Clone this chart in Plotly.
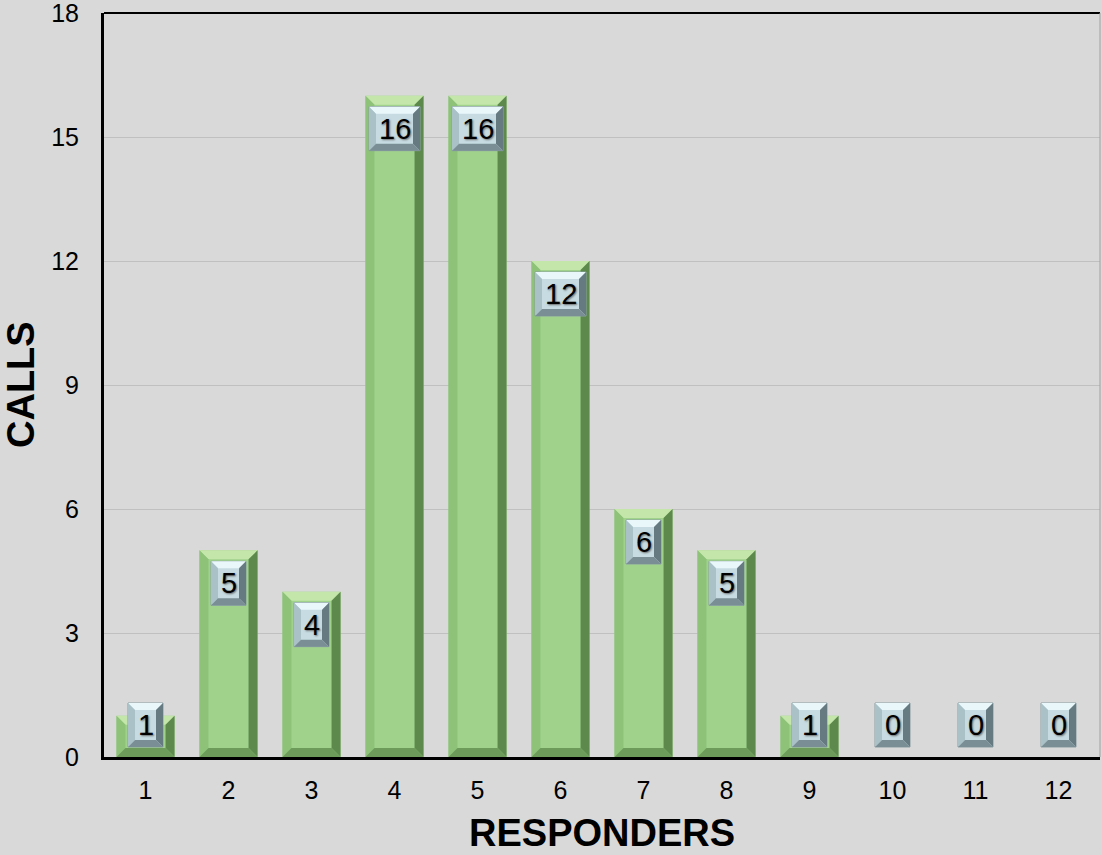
import plotly.graph_objects as go

categories = ["1", "2", "3", "4", "5", "6", "7", "8", "9", "10", "11", "12"]
calls = [1, 5, 4, 16, 16, 12, 6, 5, 1, 0, 0, 0]
y_ticks = [0, 3, 6, 9, 12, 15, 18]
x_title = "RESPONDERS"
y_title = "CALLS"

W, H = 1102, 855
ML, MR, MT, MB = 104, 2, 13, 98
PW, PH = W - ML - MR, H - MT - MB
YMAX = 18
n = len(categories)
xs = list(range(1, n + 1))
pxx = PW / n          # pixels per x unit
pxy = PH / YMAX       # pixels per y unit
BARW = 0.7

def dx(p):
    return p / pxx

def dy(p):
    return p / pxy

fig = go.Figure()
fig.add_trace(go.Bar(
    x=xs, y=calls, width=BARW,
    marker=dict(color="#a0d28b", line=dict(width=0)),
    hoverinfo="x+y", showlegend=False,
))

shapes = []
def poly(pts, color):
    path = "M " + " L ".join(f"{x},{y}" for x, y in pts) + " Z"
    shapes.append(dict(type="path", path=path, xref="x", yref="y",
                       fillcolor=color, line=dict(width=0), layer="above"))

# bar bevels
for x, v in zip(xs, calls):
    if v <= 0:
        continue
    x0, x1 = x - BARW / 2, x + BARW / 2
    y0, y1 = 0, v
    bx, by = dx(9), dy(9)
    by = min(by, v / 2)
    poly([(x0, y1), (x1, y1), (x1 - bx, y1 - by), (x0 + bx, y1 - by)], "#c4e6ab")
    poly([(x0, y0), (x0, y1), (x0 + bx, y1 - by), (x0 + bx, y0 + by)], "#8dc278")
    poly([(x1, y0), (x1, y1), (x1 - bx, y1 - by), (x1 - bx, y0 + by)], "#5d8a4c")
    poly([(x0, y0), (x1, y0), (x1 - bx, y0 + by), (x0 + bx, y0 + by)], "#6c9b5a")

annotations = []
# label boxes
for x, v in zip(xs, calls):
    txt = str(v)
    wpx = 35 if len(txt) == 1 else 51
    hpx = 44
    cy = max(v - dy(33), dy(32))
    bx0, bx1 = x - dx(wpx / 2), x + dx(wpx / 2)
    by0, by1 = cy - dy(hpx / 2), cy + dy(hpx / 2)
    ex, ey = dx(7), dy(7)
    shapes.append(dict(type="rect", x0=bx0, x1=bx1, y0=by0, y1=by1, xref="x", yref="y",
                       fillcolor="#c6dce2", line=dict(color="#8a9ea4", width=1), layer="above"))
    poly([(bx0, by1), (bx1, by1), (bx1 - ex, by1 - ey), (bx0 + ex, by1 - ey)], "#eaf7fa")
    poly([(bx0, by0), (bx0, by1), (bx0 + ex, by1 - ey), (bx0 + ex, by0 + ey)], "#aac1c8")
    poly([(bx1, by0), (bx1, by1), (bx1 - ex, by1 - ey), (bx1 - ex, by0 + ey)], "#667a81")
    poly([(bx0, by0), (bx1, by0), (bx1 - ex, by0 + ey), (bx0 + ex, by0 + ey)], "#7a8f95")
    annotations.append(dict(x=x, y=cy, xref="x", yref="y", text=txt, showarrow=False,
                            font=dict(family="Arial", size=29, color="#000000",
                                      shadow="1px 1px 2px #6a6a6a")))

# axis titles
annotations.append(dict(x=0.5, y=-(833 - (H - MB)) / PH, xref="paper", yref="paper",
                        xanchor="center", yanchor="middle", showarrow=False,
                        text=f"<b>{x_title}</b>", font=dict(family="Arial", size=38, color="#000000")))
annotations.append(dict(x=(21 - ML) / PW, y=0.5, xref="paper", yref="paper",
                        xanchor="center", yanchor="middle", showarrow=False, textangle=-90,
                        text=f"<b>{y_title}</b>", font=dict(family="Arial", size=38, color="#000000")))

# top and right border
shapes.append(dict(type="line", xref="paper", yref="paper", x0=0, x1=1, y0=1, y1=1,
                   line=dict(color="#000000", width=2), layer="above"))
shapes.append(dict(type="line", xref="paper", yref="paper", x0=1, x1=1, y0=0, y1=1,
                   line=dict(color="#a0a0a0", width=1), layer="above"))

fig.update_layout(
    width=W, height=H,
    margin=dict(l=ML, r=MR, t=MT, b=MB, autoexpand=False),
    paper_bgcolor="#d9d9d9", plot_bgcolor="#d9d9d9",
    bargap=0.3,
    shapes=shapes, annotations=annotations,
    font=dict(family="Arial", color="#000000"),
    xaxis=dict(
        range=[0.5, n + 0.5], tickvals=xs, ticktext=categories,
        showgrid=False, zeroline=False,
        showline=True, linecolor="#000000", linewidth=3,
        ticks="outside", ticklen=9, tickcolor="rgba(0,0,0,0)",
        tickfont=dict(size=25), ticklabeloverflow="allow",
    ),
    yaxis=dict(
        range=[0, YMAX], tickvals=y_ticks,
        showgrid=True, gridcolor="#c0c0c0", gridwidth=1,
        zeroline=False,
        showline=True, linecolor="#000000", linewidth=3,
        ticks="outside", ticklen=17, tickcolor="rgba(0,0,0,0)",
        tickfont=dict(size=25), ticklabeloverflow="allow",
    ),
)

fig.write_html("out.html", config={"displayModeBar": False},
               post_script="document.body.style.margin='0px';")
